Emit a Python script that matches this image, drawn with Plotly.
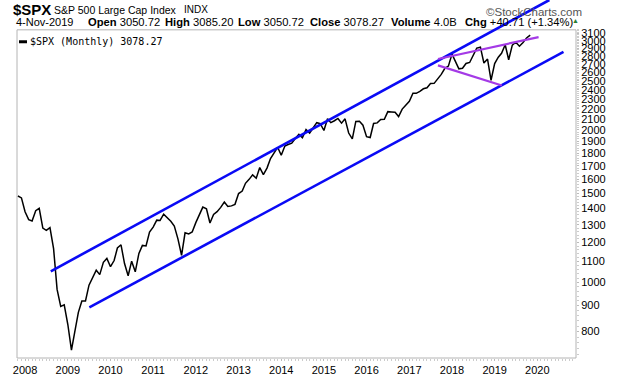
import numpy as np
import pandas as pd
import plotly.graph_objects as go

# ---------------- data ----------------
start_month = "2007-11-01"
spx_close = [
    1481.14, 1468.36,
    1378.55, 1330.63, 1322.70, 1385.59, 1400.38, 1280.00, 1267.38, 1282.83, 1166.36, 968.75, 896.24, 903.25,
    825.88, 735.09, 797.87, 872.81, 919.14, 919.32, 987.48, 1020.62, 1057.08, 1036.19, 1095.63, 1115.10,
    1073.87, 1104.49, 1169.43, 1186.69, 1089.41, 1030.71, 1101.60, 1049.33, 1141.20, 1183.26, 1180.55, 1257.64,
    1286.12, 1327.22, 1325.83, 1363.61, 1345.20, 1320.64, 1292.28, 1218.89, 1131.42, 1253.30, 1246.96, 1257.60,
    1312.41, 1365.68, 1408.47, 1397.91, 1310.33, 1362.16, 1379.32, 1406.58, 1440.67, 1412.16, 1416.18, 1426.19,
    1498.11, 1514.68, 1569.19, 1597.57, 1630.74, 1606.28, 1685.73, 1632.97, 1681.55, 1756.54, 1805.81, 1848.36,
    1782.59, 1859.45, 1872.34, 1883.95, 1923.57, 1960.23, 1930.67, 2003.37, 1972.29, 2018.05, 2067.56, 2058.90,
    1994.99, 2104.50, 2067.89, 2085.51, 2107.39, 2063.11, 2103.84, 1972.18, 1920.03, 2079.36, 2080.41, 2043.94,
    1940.24, 1932.23, 2059.74, 2065.30, 2096.95, 2098.86, 2173.60, 2170.95, 2168.27, 2126.15, 2198.81, 2238.83,
    2278.87, 2363.64, 2362.72, 2384.20, 2411.80, 2423.41, 2470.30, 2471.65, 2519.36, 2575.26, 2647.58, 2673.61,
    2823.81, 2713.83, 2640.87, 2648.05, 2705.27, 2718.37, 2816.29, 2901.52, 2913.98, 2711.74, 2760.17, 2506.85,
    2704.10, 2784.49, 2834.40, 2945.83, 2752.06, 2941.76, 2980.38, 2926.46, 2976.74, 3037.56, 3078.27,
]
months = pd.date_range(start_month, periods=len(spx_close), freq="MS")

upper_channel_dates = ["2008-08-08", "2020-04-13"]
upper_channel_vals = [1052, 3611]
lower_channel_dates = ["2009-07-04", "2020-08-12"]
lower_channel_vals = [893, 2851]
wedge_top_dates = ["2017-09-03", "2020-01-12"]
wedge_top_vals = [2762, 3051]
wedge_bot_dates = ["2017-09-03", "2019-03-04"]
wedge_bot_vals = [2683, 2448]

year_ticks = [str(y) for y in range(2008, 2021)]
price_ticks = list(range(800, 3101, 100))

# ---------------- geometry helpers (layout only) ----------------
W, H = 620, 376
ML, MR, MT, MB = 17, 44, 0, 16
PW, PH = W - ML - MR, H - MT - MB


def px(x):
    return (x - ML) / PW


def py(y):
    return (H - MB - y) / PH


fig = go.Figure()
fig.add_trace(go.Scatter(x=months, y=spx_close, mode="lines",
                         line=dict(color="black", width=1.5), hoverinfo="skip"))
for d, v in [(upper_channel_dates, upper_channel_vals), (lower_channel_dates, lower_channel_vals)]:
    fig.add_trace(go.Scatter(x=d, y=v, mode="lines", line=dict(color="#0a0af5", width=2.6),
                             hoverinfo="skip"))
for d, v in [(wedge_top_dates, wedge_top_vals), (wedge_bot_dates, wedge_bot_vals)]:
    fig.add_trace(go.Scatter(x=d, y=v, mode="lines", line=dict(color="#a43ae6", width=2.2),
                             hoverinfo="skip"))

FONT = "Liberation Sans, Arial, sans-serif"
minor_y = [v for v in range(720, 3161, 20)]

fig.update_layout(
    width=W, height=H, autosize=False,
    margin=dict(l=ML, r=MR, t=MT, b=MB, pad=0),
    paper_bgcolor="white", plot_bgcolor="white",
    showlegend=False,
    font=dict(family=FONT, size=11, color="black"),
    xaxis=dict(
        type="date", range=["2007-10-24", "2020-11-27"],
        tickmode="array", tickvals=[f"{y}-01-01" for y in year_ticks], ticktext=year_ticks,
        ticks="outside", ticklen=2, tickcolor="#bbbbbb", tickwidth=1,
        showgrid=False, showline=False, zeroline=False,
        tickfont=dict(family=FONT, size=11, color="black"),
        minor=dict(dtick="M1", ticks="outside", ticklen=2, tickcolor="#cccccc", showgrid=False),
    ),
    yaxis=dict(
        type="log", side="right", range=[np.log10(709.2), np.log10(3611)],
        tickmode="array", tickvals=price_ticks, ticktext=[str(v) for v in price_ticks],
        ticks="outside", ticklen=2, tickcolor="#bbbbbb", tickwidth=1,
        showgrid=False, showline=False, zeroline=False,
        tickfont=dict(family=FONT, size=11, color="black"),
        minor=dict(tickmode="array", tickvals=minor_y, ticks="outside", ticklen=2,
                   tickcolor="#cccccc", showgrid=False),
    ),
)

# plot box
fig.add_shape(type="rect", xref="paper", yref="paper", x0=0, x1=1, y0=0, y1=py(30),
              line=dict(color="#b4b4b4", width=1), fillcolor="rgba(0,0,0,0)", layer="below")
# legend dash
fig.add_shape(type="line", xref="paper", yref="paper", x0=px(19), x1=px(27), y0=py(42), y1=py(42),
              line=dict(color="black", width=3))


def ann(text, x, y, size=11, color="black", anchor="left", family=FONT):
    fig.add_annotation(text=text, xref="paper", yref="paper", x=px(x), y=py(y),
                       xanchor=anchor, yanchor="middle", showarrow=False,
                       font=dict(family=family, size=size, color=color), borderpad=0)


ann("<b>$SPX</b>", 12, 10, size=15)
ann("S&P 500 Large Cap Index", 53, 10, size=10.5)
ann("INDX", 183, 10, size=10)
ann("\u00a9StockCharts.com", 583, 12, size=11.5, color="#555555", anchor="right")

ann("4-Nov-2019", 15, 22, size=11)
ann("<b>Open</b> 3050.72", 87, 22, size=11.2)
ann("<b>High</b> 3085.20", 164, 22, size=11.2)
ann("<b>Low</b> 3050.72", 237, 22, size=11.2)
ann("<b>Close</b> 3078.27", 309, 22, size=11.2)
ann("<b>Volume</b> 4.0B", 390, 22, size=11.2)
ann("<b>Chg</b> +40.71 (+1.34%)", 464, 22, size=11.2)
ann("\u25b2", 571, 21, size=7, color="#2e7d32")

ann("$SPX (Monthly) 3078.27", 29, 42, size=10, family="DejaVu Sans Mono, monospace")

fig.write_html("out.html", config={"displayModeBar": False, "staticPlot": True},
               post_script="document.body.style.margin='0';document.body.style.overflow='hidden';")
